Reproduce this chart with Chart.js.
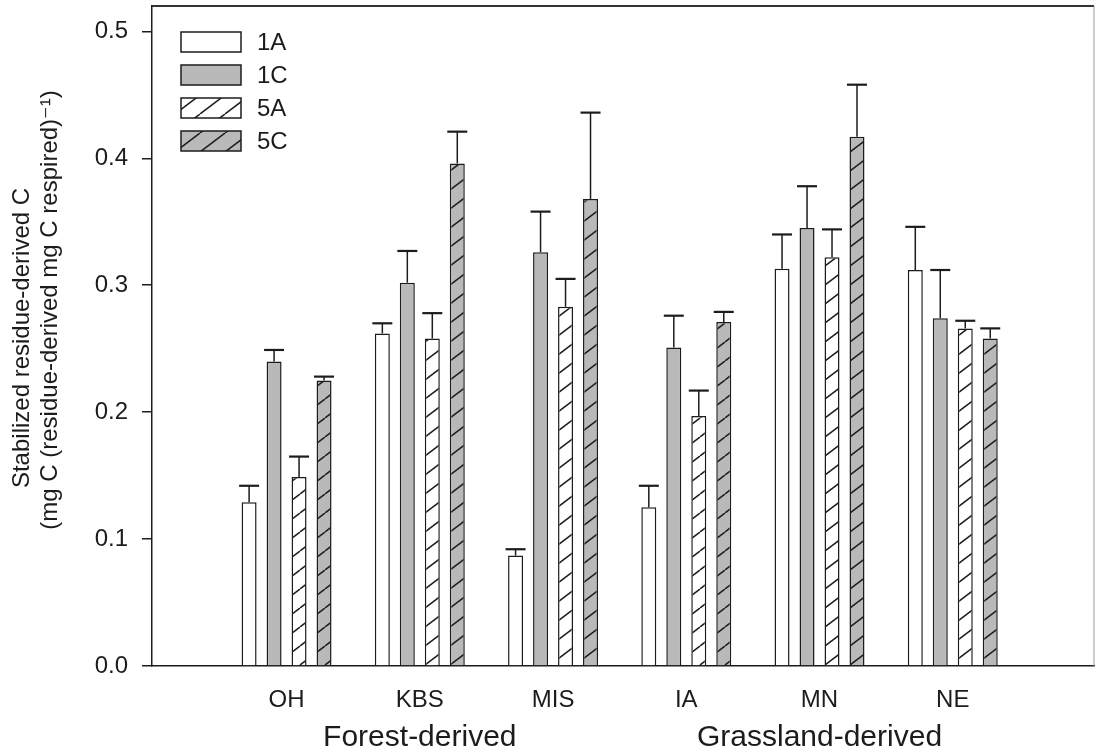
<!DOCTYPE html>
<html>
<head>
<meta charset="utf-8">
<script src="https://cdn.jsdelivr.net/npm/chart.js@4/dist/chart.umd.min.js"></script>
<style>
  html, body { margin: 0; padding: 0; background: #ffffff; }
  #wrap { width: 1097px; height: 755px; }
</style>
</head>
<body>
<div id="wrap"><canvas id="c" width="1097" height="755"></canvas></div>
<script>
// ---- Data ----
const categories = ['OH', 'KBS', 'MIS', 'IA', 'MN', 'NE'];
const groupLabels = ['Forest-derived', 'Grassland-derived'];
const groupCenters = ['KBS', 'MN'];
const seriesNames = ['1A', '1C', '5A', '5C'];
const v1A = [0.129, 0.262, 0.087, 0.125, 0.313, 0.312];
const v1C = [0.240, 0.302, 0.326, 0.251, 0.345, 0.274];
const v5A = [0.149, 0.258, 0.283, 0.197, 0.322, 0.266];
const v5C = [0.225, 0.396, 0.368, 0.271, 0.417, 0.258];
const e1A = [0.013, 0.008, 0.005, 0.017, 0.027, 0.034];
const e1C = [0.009, 0.025, 0.032, 0.025, 0.033, 0.038];
const e5A = [0.016, 0.020, 0.022, 0.020, 0.022, 0.006];
const e5C = [0.003, 0.025, 0.068, 0.008, 0.041, 0.008];
const yTicks = [0.0, 0.1, 0.2, 0.3, 0.4, 0.5];
const yTitle = ['Stabilized residue-derived C', '(mg C (residue-derived mg C respired)\u207B\u00B9)'];

// ---- Styles ----
const FONT = "'Liberation Sans', Arial, 'DejaVu Sans', sans-serif";
const INK = '#1c1c1c';
const GRAY = '#b9b9b9';

function hatch(bg) {
  const w = 25, h = 19;
  const cv = document.createElement('canvas');
  cv.width = w; cv.height = h;
  const g = cv.getContext('2d');
  g.fillStyle = bg; g.fillRect(0, 0, w, h);
  g.strokeStyle = INK; g.lineWidth = 1.5;
  for (const dx of [-w, 0, w]) {
    g.beginPath();
    g.moveTo(dx, h); g.lineTo(dx + w, 0);
    g.stroke();
  }
  return g.createPattern(cv, 'repeat');
}

const fills = ['#ffffff', GRAY, hatch('#ffffff'), hatch(GRAY)];
const values = [v1A, v1C, v5A, v5C];
const errors = [e1A, e1C, e5A, e5C];

const datasets = seriesNames.map((name, s) => ({
  label: name,
  data: categories.map((c, i) => ({ x: i + 1, y: values[s][i] })),
  errors: errors[s],
  backgroundColor: fills[s],
  borderColor: INK,
  borderWidth: 1.5,
  borderSkipped: 'bottom',
  categoryPercentage: 0.75,
  barPercentage: 0.6
}));

// ---- Plugins ----
const boxPlugin = {
  id: 'box',
  afterDraw(chart) {
    const { ctx, chartArea: a } = chart;
    ctx.save();
    ctx.strokeStyle = '#333';
    ctx.lineWidth = 2;
    ctx.beginPath();
    ctx.moveTo(a.left, a.top); ctx.lineTo(a.right, a.top);
    ctx.stroke();
    ctx.strokeStyle = '#999';
    ctx.lineWidth = 1;
    ctx.beginPath();
    ctx.moveTo(a.right, a.top); ctx.lineTo(a.right, a.bottom);
    ctx.stroke();
    ctx.restore();
  }
};

const errorPlugin = {
  id: 'errbars',
  afterDatasetsDraw(chart) {
    const { ctx } = chart;
    const ys = chart.scales.y;
    ctx.save();
    ctx.strokeStyle = INK;
    chart.data.datasets.forEach((ds, di) => {
      const meta = chart.getDatasetMeta(di);
      meta.data.forEach((bar, i) => {
        const top = ys.getPixelForValue(ds.data[i].y + ds.errors[i]);
        const half = bar.width / 2 + 2.5;
        ctx.lineWidth = 1.5;
        ctx.beginPath();
        ctx.moveTo(bar.x, bar.y); ctx.lineTo(bar.x, top);
        ctx.stroke();
        ctx.lineWidth = 2.2;
        ctx.beginPath();
        ctx.moveTo(bar.x - half, top); ctx.lineTo(bar.x + half, top);
        ctx.stroke();
      });
    });
    ctx.restore();
  }
};

const legendPlugin = {
  id: 'boxLegend',
  afterDraw(chart) {
    const { ctx, chartArea: a } = chart;
    ctx.save();
    chart.data.datasets.forEach((ds, i) => {
      const x = a.left + 29, y = a.top + 26 + i * 33;
      ctx.fillStyle = ds.backgroundColor;
      ctx.fillRect(x, y, 60, 20);
      ctx.strokeStyle = INK; ctx.lineWidth = 1.5;
      ctx.strokeRect(x, y, 60, 20);
      ctx.fillStyle = INK;
      ctx.font = '24px ' + FONT;
      ctx.textAlign = 'left'; ctx.textBaseline = 'middle';
      ctx.fillText(ds.label, x + 76, y + 11);
    });
    ctx.restore();
  }
};

const textPlugin = {
  id: 'texts',
  afterDraw(chart) {
    const { ctx, chartArea: a } = chart;
    const xs = chart.scales.x;
    ctx.save();
    ctx.fillStyle = INK;
    // group labels
    ctx.font = '30px ' + FONT;
    ctx.textAlign = 'center'; ctx.textBaseline = 'alphabetic';
    groupLabels.forEach((g, i) => {
      const px = xs.getPixelForValue(categories.indexOf(groupCenters[i]) + 1);
      ctx.fillText(g, px, 746);
    });
    // y-axis title (two lines)
    const mid = (a.top + a.bottom) / 2;
    ctx.font = '24px ' + FONT;
    ctx.textBaseline = 'middle';
    const pos = [[22, mid + 2], [50, mid - 26]];
    yTitle.forEach((t, i) => {
      ctx.save();
      ctx.translate(pos[i][0], pos[i][1]);
      ctx.rotate(-Math.PI / 2);
      ctx.fillText(t, 0, 0);
      ctx.restore();
    });
    ctx.restore();
  }
};

new Chart(document.getElementById('c'), {
  type: 'bar',
  data: { datasets },
  options: {
    responsive: false,
    animation: false,
    devicePixelRatio: 1,
    layout: { padding: { top: 6, right: 3, left: 0, bottom: 0 } },
    plugins: { legend: { display: false }, tooltip: { enabled: false } },
    scales: {
      x: {
        type: 'linear',
        min: -0.01,
        max: 7.06,
        offset: false,
        grid: { display: false, offset: false },
        border: { display: true, color: INK, width: 1.5 },
        afterBuildTicks(s) { s.ticks = categories.map((c, i) => ({ value: i + 1 })); },
        afterFit(s) { s.height = 89; s.paddingLeft = 0; s.paddingRight = 0; },
        ticks: {
          autoSkip: false,
          maxRotation: 0,
          padding: 12,
          color: INK,
          font: { family: FONT, size: 24 },
          callback: (v) => categories[Math.round(v) - 1] || ''
        }
      },
      y: {
        min: 0,
        max: 0.52,
        afterBuildTicks(s) { s.ticks = yTicks.map(v => ({ value: v })); },
        afterFit(s) { s.width = 152; s.paddingTop = 0; s.paddingBottom = 0; },
        grid: { drawOnChartArea: false, drawTicks: true, tickLength: 10, color: INK, lineWidth: 1.5 },
        border: { display: true, color: INK, width: 1.5 },
        ticks: {
          padding: 14,
          color: INK,
          font: { family: FONT, size: 24 },
          callback: (v) => Number(v).toFixed(1)
        },
        title: { display: false }
      }
    }
  },
  plugins: [errorPlugin, boxPlugin, legendPlugin, textPlugin]
});
</script>
</body>
</html>
